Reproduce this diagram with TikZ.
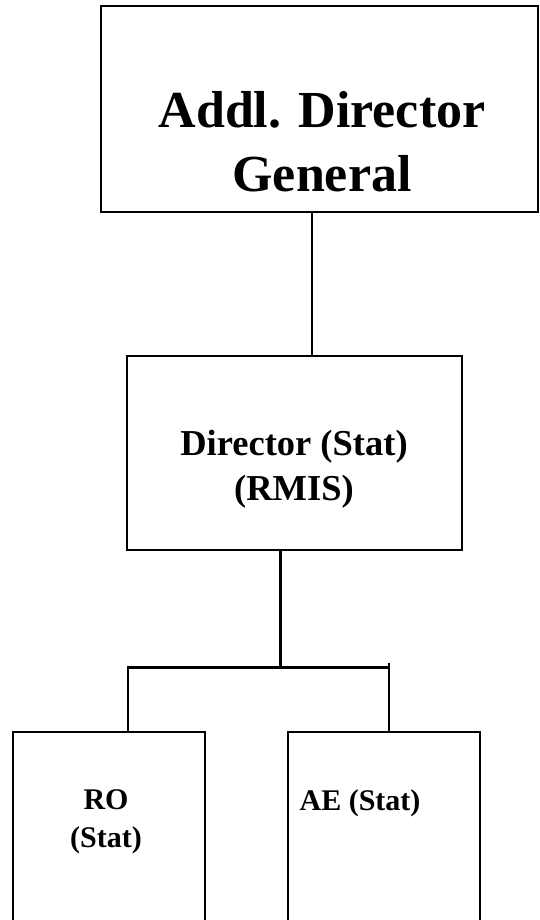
\documentclass[tikz,border=0pt]{standalone}
\usepackage{fontspec}
\setmainfont{Liberation Serif}
\begin{document}
\begin{tikzpicture}[x=1pt,y=-1pt,
        post/.style={draw, line width=2.4pt, inner sep=0pt},
        wire/.style={line width=2.4pt},
        title/.style={align=center, inner sep=0pt}]
    \useasboundingbox (0,0) rectangle (539,920);
    % boxes
    \node[post, minimum width=437pt, minimum height=206pt] (adg) at (319.5,109) {};
    \node[post, minimum width=335pt, minimum height=194pt] (dir) at (294.5,453) {};
    \node[post, minimum width=192pt, minimum height=218pt] (ro) at (109,841) {};
    \node[post, minimum width=192pt, minimum height=218pt] (ae) at (384,841) {};
    % texts
    \node[title, font={\fontsize{52}{64}\selectfont\bfseries}] (adgtext) at (322,141.5) {Addl. Director\\General};
    \node[title, font={\fontsize{36.5}{45}\selectfont\bfseries}] (dirtext) at (294,469) {Director (Stat)\\(RMIS)};
    \node[title, font={\fontsize{30}{38}\selectfont\bfseries}] (rotext) at (106,821.4) {RO\\(Stat)};
    \node[title, anchor=base, font={\fontsize{30}{38}\selectfont\bfseries}] (aetext) at (360,810) {AE (Stat)};
    % lines
    \coordinate (bus) at (280.5,667.5);
    \draw[wire] ([xshift=-7.8pt]adg.south) -- ([xshift=-7.8pt]adg.south |- dir.north);
    \draw[wire] ([xshift=-14pt]dir.south) -- (bus);
    \draw[wire] ([xshift=18.7pt]ro.north) |- ([xshift=6pt]ae.north |- bus);
    \draw[wire] ([xshift=5pt]ae.north) -- ++(0,-68);
\end{tikzpicture}
\end{document}
